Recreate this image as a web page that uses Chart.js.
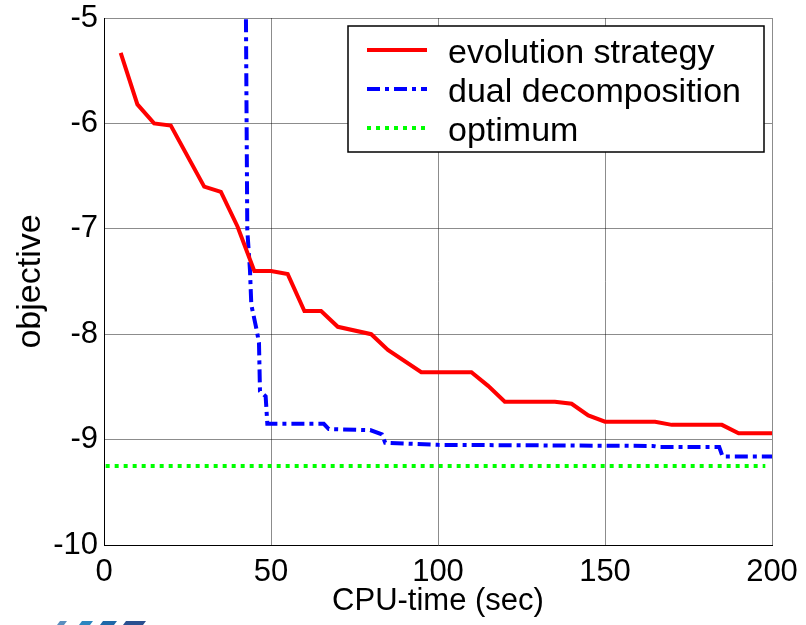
<!DOCTYPE html>
<html>
<head>
<meta charset="utf-8">
<script src="https://cdn.jsdelivr.net/npm/chart.js@4/dist/chart.umd.min.js"></script>
<style>
  html, body { margin: 0; padding: 0; background: #fff; }
  #wrap { width: 806px; height: 625px; }
</style>
</head>
<body>
<div id="wrap"><canvas id="cpuChart" width="806" height="625"></canvas></div>
<script>
// tick labels
const xTicks = [0, 50, 100, 150, 200];
const yTicks = [-10, -9, -8, -7, -6, -5];

// evolution strategy
const esTime = [5, 10, 15, 20, 30, 35, 40, 45, 50, 55, 60, 65, 70, 80, 85, 95, 110, 115, 120, 135, 140, 145, 150, 165, 170, 185, 190, 200];
const esObj = [-5.33, -5.82, -6.0, -6.02, -6.6, -6.65, -6.98, -7.40, -7.40, -7.43, -7.78, -7.78, -7.93, -8.0, -8.15, -8.36, -8.36, -8.49, -8.64, -8.64, -8.66, -8.77, -8.83, -8.83, -8.86, -8.86, -8.94, -8.94];

// dual decomposition
const ddTime = [42.4, 42.9, 43.7, 44.1, 45.7, 46.4, 46.7, 48.4, 48.9, 65.8, 67.3, 79.7, 83.2, 84.2, 100, 164.3, 166.3, 184.2, 185.2, 200];
const ddObj = [-4.5, -7.01, -7.39, -7.72, -7.96, -8.08, -8.54, -8.59, -8.85, -8.85, -8.90, -8.91, -8.95, -9.03, -9.05, -9.06, -9.07, -9.07, -9.16, -9.16];

// optimum
const optTime = [0.5, 198];
const optObj = [-9.25, -9.25];

const FONT = "'Liberation Sans', Arial, Helvetica, sans-serif";

function pts(xs, ys) {
  return xs.map((x, i) => ({ x: x, y: ys[i] }));
}

// boxed legend inside the plot, plus the little logo stripes at the bottom
const boxLegend = {
  id: "boxLegend",
  afterDraw(chart) {
    const ctx = chart.ctx;
    const bx = 348, by = 26, bw = 416, bh = 126;
    ctx.save();
    ctx.fillStyle = "#fff";
    ctx.fillRect(bx, by, bw, bh);
    ctx.strokeStyle = "#000";
    ctx.lineWidth = 1.5;
    ctx.strokeRect(bx, by, bw, bh);
    const rows = [50, 89, 128];
    chart.data.datasets.forEach((ds, i) => {
      const y = rows[i];
      ctx.beginPath();
      ctx.setLineDash(ds.borderDash || []);
      ctx.strokeStyle = ds.borderColor;
      ctx.lineWidth = ds.borderWidth;
      ctx.lineCap = "butt";
      ctx.moveTo(367, y);
      ctx.lineTo(427, y);
      ctx.stroke();
      ctx.setLineDash([]);
      ctx.fillStyle = "#000";
      ctx.font = "34px " + FONT;
      ctx.textBaseline = "alphabetic";
      ctx.textAlign = "left";
      ctx.fillText(ds.label, 448, y + 13);
    });

    // logo stripes (cut off at the bottom edge)
    const stripes = [[57, 67, "#5a8fbf"], [79, 93, "#2d86c0"], [100, 117, "#1f68a8"], [123, 146, "#2a5090"]];
    stripes.forEach(s => {
      ctx.fillStyle = s[2];
      ctx.beginPath();
      ctx.moveTo(s[0], 625);
      ctx.lineTo(s[0] + 3, 621);
      ctx.lineTo(s[1], 621);
      ctx.lineTo(s[1] - 3, 625);
      ctx.closePath();
      ctx.fill();
    });
    ctx.restore();
  }
};

new Chart(document.getElementById("cpuChart"), {
  type: "line",
  data: {
    datasets: [{
      label: "evolution strategy",
      data: pts(esTime, esObj),
      borderColor: "#ff0000",
      borderWidth: 4,
      pointRadius: 0,
      tension: 0,
      fill: false
    }, {
      label: "dual decomposition",
      data: pts(ddTime, ddObj),
      borderColor: "#0000ff",
      borderWidth: 4,
      borderDash: [13, 5, 4, 5],
      pointRadius: 0,
      tension: 0,
      fill: false
    }, {
      label: "optimum",
      data: pts(optTime, optObj),
      borderColor: "#00ff00",
      borderWidth: 4,
      borderDash: [4, 5],
      pointRadius: 0,
      fill: false
    }]
  },
  options: {
    responsive: false,
    animation: false,
    layout: { padding: { left: 0, top: 18, right: 34, bottom: 0 } },
    plugins: {
      legend: { display: false },
      tooltip: { enabled: false }
    },
    scales: {
      x: {
        type: "linear",
        min: 0,
        max: 200,
        afterBuildTicks: s => { s.ticks = xTicks.map(v => ({ value: v })); },
        afterFit: s => { s.height = 80; s.paddingLeft = 0; s.paddingRight = 0; },
        ticks: { color: "#000", font: { family: FONT, size: 31 }, padding: 9, maxRotation: 0 },
        grid: { color: "rgba(0,0,0,0.45)", lineWidth: 1, drawTicks: false },
        border: { color: "#000", width: 1 },
        title: { display: true, text: "CPU-time (sec)", color: "#000", font: { family: FONT, size: 31 }, padding: { top: 0, bottom: 5 } }
      },
      y: {
        min: -10,
        max: -5,
        afterBuildTicks: s => { s.ticks = yTicks.map(v => ({ value: v })); },
        afterFit: s => { s.width = 104; s.paddingTop = 0; s.paddingBottom = 0; },
        ticks: { color: "#000", font: { family: FONT, size: 31 }, padding: 6 },
        grid: { color: "rgba(0,0,0,0.45)", lineWidth: 1, drawTicks: false },
        border: { color: "#000", width: 1 },
        title: { display: true, text: "objective", color: "#000", font: { family: FONT, size: 34 }, padding: { top: 10, bottom: 0 } }
      }
    }
  },
  plugins: [boxLegend]
});
</script>
</body>
</html>
